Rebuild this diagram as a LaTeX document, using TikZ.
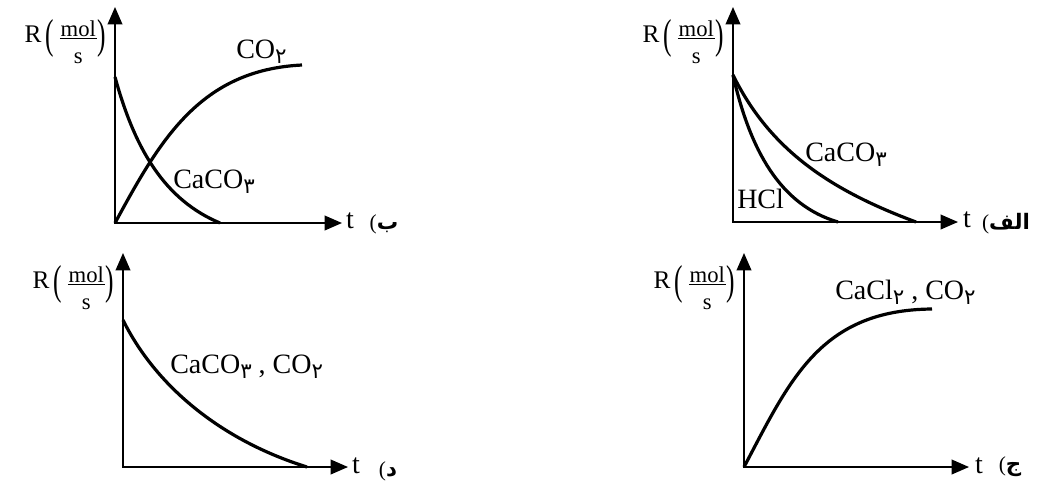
\documentclass[tikz,border=0pt]{standalone}
\usepackage{fontspec}
\setmainfont{Liberation Serif}
\newfontfamily\arabicfont[Script=Arabic]{DejaVu Sans}
\TeXXeTstate=1
\usetikzlibrary{arrows.meta,calc}
\newcommand\psub[1]{\raisebox{-3.8pt}{\fontsize{16}{16}\selectfont\arabicfont #1}}
% fraction mol/s, placed relative to the baseline of R
\newcommand\stackfrac{{\fontsize{17}{20}\selectfont
  \setbox0\hbox{mol}%
  \rlap{\raisebox{4.5pt}{mol}}%
  \rlap{\hspace{-0.7pt}\raisebox{1.9pt}{\rule{\dimexpr\wd0+1.4pt\relax}{0.8pt}}}%
  \rlap{\makebox[\wd0]{\raisebox{-15.75pt}{s}}}%
  \hphantom{mol}}}
\newcommand\tallparen[1]{\raisebox{-5pt}{\scalebox{1}[1.65]{#1}}}
\tikzset{
  axes/.style={line width=1.2pt, {Triangle[length=13pt,width=11pt]}-{Triangle[length=13pt,width=11pt]}},
  curve/.style={line width=2.4pt},
  lab/.style={font=\fontsize{21}{25}\selectfont, inner sep=0pt, anchor=base west},
  tlab/.style={font=\fontsize{21}{25}\selectfont, inner sep=0pt, anchor=base},
  rtext/.style={font=\fontsize{19}{22}\selectfont, inner sep=0pt, anchor=base east},
  part/.style={font=\fontsize{16}{18}\selectfont, inner sep=0pt, anchor=base},
}
% R (mol/s) label: #1 node name, #2 axis x, #3 arrow tip y
\newcommand\ratelab[3]{%
  \node[rtext] (#1) at (#2-9,#3+35) {R\hspace{3pt}\tallparen{(}\hspace{5pt}\stackfrac\hspace{1pt}\tallparen{)}};
}
\begin{document}
\begin{tikzpicture}[x=0.75pt,y=-0.75pt]
\useasboundingbox (0,0) rectangle (1043,494);
% ---------------- plot b (top left)
\coordinate (bO) at (115,223);
\coordinate (bY) at (115,7);
\coordinate (bX) at (342,223);
\draw[axes] (bY) -- (bO) -- (bX);
\coordinate (bC0) at (115,77);
\coordinate (bC1) at (220,223);
\draw[curve] (bC0) .. controls (135,150) and (165,200) .. (bC1);
\coordinate (bD1) at (302,65);
\draw[curve] (bO) .. controls (160,140) and (200,70) .. (bD1);
\node[lab] (bco2) at (236,58) {CO\psub{۲}};
\node[lab] (bcaco3) at (173,188) {CaCO\psub{۳}};
\node[tlab] (bt) at (350,228) {t};
\node[part] (bp) at (384,229) {(\arabicfont\bfseries\beginR ب\endR};
\ratelab{bR}{115}{7}
% ---------------- plot alef (top right)
\coordinate (aO) at (733,222);
\coordinate (aY) at (733,7);
\coordinate (aX) at (958,222);
\draw[axes] (aY) -- (aO) -- (aX);
\coordinate (aC0) at (733,75);
\coordinate (aH1) at (838,222);
\coordinate (aK1) at (916,222);
\draw[curve] (aC0) .. controls (750,150) and (780,205) .. (aH1);
\draw[curve] (aC0) .. controls (770,150) and (830,190) .. (aK1);
\node[lab] (ahcl) at (737,208) {HCl};
\node[lab] (acaco3) at (805,161) {CaCO\psub{۳}};
\node[tlab] (at) at (967,227) {t};
\node[part] (ap) at (1006,229) {(\arabicfont\bfseries\beginR الف\endR};
\ratelab{aR}{733}{7}
% ---------------- plot d (bottom left)
\coordinate (dO) at (123,467);
\coordinate (dY) at (123,253);
\coordinate (dX) at (348,467);
\draw[axes] (dY) -- (dO) -- (dX);
\coordinate (dC0) at (123,320);
\coordinate (dC1) at (307,467);
\draw[curve] (dC0) .. controls (155,385) and (220,440) .. (dC1);
\node[lab] (dlab) at (170,373) {CaCO\psub{۳} , CO\psub{۲}};
\node[tlab] (dt) at (356,473) {t};
\node[part] (dp) at (388,476) {(\arabicfont\bfseries\beginR د\endR};
\ratelab{dR}{123}{253}
% ---------------- plot j (bottom right)
\coordinate (jO) at (744,467);
\coordinate (jY) at (744,253);
\coordinate (jX) at (969,467);
\draw[axes] (jY) -- (jO) -- (jX);
\coordinate (jC1) at (932,309);
\draw[curve] (jO) .. controls (790,380) and (820,310) .. (jC1);
\node[lab] (jlab) at (835,299) {CaCl\psub{۲} , CO\psub{۲}};
\node[tlab] (jt) at (979,473) {t};
\node[part] (jp) at (1010,471) {(\arabicfont\bfseries\beginR ج\endR};
\ratelab{jR}{744}{253}
\end{tikzpicture}
\end{document}
